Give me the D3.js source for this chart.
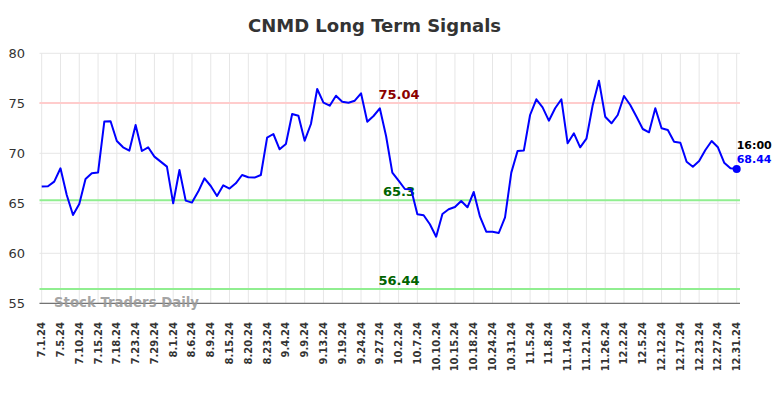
<!DOCTYPE html>
<html><head><meta charset="utf-8">
<script src="https://cdn.jsdelivr.net/npm/d3@7"></script>
<style>body{margin:0;background:#fff} svg{display:block;font-family:"DejaVu Sans",sans-serif}</style>
</head><body><svg id="c" width="784" height="398"></svg>
<script>
const title = "CNMD Long Term Signals";
const dates = [
"7.1.24","7.2.24","7.3.24","7.5.24","7.8.24","7.9.24","7.10.24","7.11.24","7.12.24","7.15.24","7.16.24","7.17.24",
"7.18.24","7.19.24","7.22.24","7.23.24","7.24.24","7.26.24","7.29.24","7.30.24","7.31.24","8.1.24","8.2.24","8.5.24",
"8.6.24","8.7.24","8.8.24","8.9.24","8.12.24","8.14.24","8.15.24","8.16.24","8.19.24","8.20.24","8.21.24","8.22.24",
"8.23.24","8.27.24","8.30.24","9.4.24","9.5.24","9.6.24","9.9.24","9.10.24","9.12.24","9.13.24","9.16.24","9.18.24",
"9.19.24","9.20.24","9.23.24","9.24.24","9.25.24","9.26.24","9.27.24","9.30.24","10.1.24","10.2.24","10.3.24","10.4.24",
"10.7.24","10.8.24","10.9.24","10.10.24","10.11.24","10.14.24","10.15.24","10.16.24","10.17.24","10.18.24","10.21.24","10.23.24",
"10.24.24","10.25.24","10.29.24","10.31.24","11.1.24","11.4.24","11.5.24","11.6.24","11.7.24","11.8.24","11.11.24","11.13.24",
"11.14.24","11.15.24","11.19.24","11.21.24","11.22.24","11.25.24","11.26.24","11.27.24","11.29.24","12.2.24","12.3.24","12.4.24",
"12.5.24","12.6.24","12.10.24","12.12.24","12.13.24","12.16.24","12.17.24","12.18.24","12.20.24","12.23.24","12.24.24","12.26.24",
"12.27.24","12.28.24","12.30.24","12.31.24"];
const values = [
66.67,66.7,67.17,68.5,65.83,63.83,64.93,67.43,68.0,68.07,73.17,73.2,
71.23,70.6,70.27,72.83,70.23,70.6,69.67,69.17,68.67,65.0,68.33,65.27,
65.07,66.17,67.5,66.73,65.73,66.8,66.47,67.0,67.83,67.6,67.57,67.83,
71.57,71.93,70.4,70.93,73.93,73.76,71.26,72.93,76.43,75.06,74.76,75.76,
75.16,75.06,75.26,76.0,73.16,73.73,74.5,71.73,68.07,67.26,66.43,66.4,
63.9,63.8,62.9,61.66,63.93,64.4,64.63,65.23,64.6,66.13,63.66,62.16,
62.16,62.03,63.6,68.07,70.23,70.27,73.83,75.4,74.6,73.26,74.5,75.4,
71.0,72.0,70.6,71.46,74.8,77.26,73.66,73.0,73.83,75.73,74.83,73.66,
72.43,72.1,74.5,72.5,72.33,71.16,71.06,69.16,68.66,69.23,70.33,71.23,
70.6,69.06,68.5,68.44];
const tickLabels = ["7.1.24","7.5.24","7.10.24","7.15.24","7.18.24","7.23.24","7.29.24","8.1.24","8.6.24","8.9.24",
"8.15.24","8.20.24","8.23.24","9.4.24","9.9.24","9.13.24","9.19.24","9.24.24","9.27.24","10.2.24","10.7.24","10.10.24",
"10.15.24","10.18.24","10.24.24","10.31.24","11.5.24","11.8.24","11.14.24","11.21.24","11.26.24","12.2.24","12.5.24",
"12.12.24","12.17.24","12.23.24","12.27.24","12.31.24"];
const yTicks = [55,60,65,70,75,80];
const resistance = [75.04];
const supports = [65.3, 56.44];
const lastTime = "16:00";

const svg = d3.select("#c");
const L = 39.5, R = 740, T = 53.3, B = 303.3;
const x = d3.scalePoint().domain(dates).range([41.7, 736.7]);
const y = d3.scaleLinear().domain([55, 80]).range([B, T]);

svg.append("text").attr("x", 374.5).attr("y", 31.7).attr("text-anchor", "middle")
  .attr("font-size", 18).attr("font-weight", "bold").attr("fill", "#333").text(title);

// grid
const g = svg.append("g");
g.selectAll(".hg").data(yTicks).join("line")
  .attr("x1", L).attr("x2", R).attr("y1", d => y(d)).attr("y2", d => y(d))
  .attr("stroke", "#e6e6e6").attr("stroke-width", 1);
g.selectAll(".vg").data(tickLabels).join("line")
  .attr("x1", d => x(d)).attr("x2", d => x(d)).attr("y1", T).attr("y2", B)
  .attr("stroke", "#e6e6e6").attr("stroke-width", 1);

// y labels
svg.selectAll(".yl").data(yTicks).join("text")
  .attr("x", 25).attr("y", d => y(d)).attr("dy", "0.35em").attr("text-anchor", "end")
  .attr("font-size", 13).attr("fill", "#333").text(d => d);

// x labels
svg.selectAll(".xl").data(tickLabels).join("text")
  .attr("transform", d => `translate(${x(d)},322) rotate(-90)`)
  .attr("dy", "0.35em").attr("text-anchor", "end")
  .attr("font-size", 10).attr("font-weight", "bold").attr("fill", "#333").text(d => d);

// signal lines
svg.selectAll(".rl").data(resistance).join("line")
  .attr("x1", L).attr("x2", R).attr("y1", d => y(d)).attr("y2", d => y(d))
  .attr("stroke", "#ffcccc").attr("stroke-width", 2);
svg.selectAll(".sl").data(supports).join("line")
  .attr("x1", L).attr("x2", R).attr("y1", d => y(d)).attr("y2", d => y(d))
  .attr("stroke", "#90ee90").attr("stroke-width", 2);

// bottom axis line
svg.append("line").attr("x1", L).attr("x2", R).attr("y1", B).attr("y2", B)
  .attr("stroke", "#555").attr("stroke-width", 1);

// watermark
svg.append("text").attr("x", 54).attr("y", 307).attr("font-size", 13.3).attr("font-weight", "bold")
  .attr("fill", "#999").attr("fill-opacity", 0.9).text("Stock Traders Daily");

// signal labels
svg.selectAll(".rt").data(resistance).join("text")
  .attr("x", 399).attr("y", d => y(d) - 4).attr("text-anchor", "middle")
  .attr("font-size", 13).attr("font-weight", "bold").attr("fill", "#8b0000").text(d => d.toFixed(2));
svg.selectAll(".st").data(supports).join("text")
  .attr("x", 399).attr("y", d => y(d) - 4).attr("text-anchor", "middle")
  .attr("font-size", 13).attr("font-weight", "bold").attr("fill", "#006400").text(d => String(d));

// price line
const line = d3.line().x((d, i) => x(dates[i])).y(d => y(d));
svg.append("path").datum(values).attr("d", line).attr("fill", "none")
  .attr("stroke", "#0000ff").attr("stroke-width", 2).attr("stroke-linejoin", "round");

const li = values.length - 1;
svg.append("circle").attr("cx", x(dates[li])).attr("cy", y(values[li])).attr("r", 4).attr("fill", "#0000ff");
svg.append("text").attr("x", x(dates[li])).attr("y", 148.5).attr("font-size", 11).attr("font-weight", "bold")
  .attr("fill", "#000").text(lastTime);
svg.append("text").attr("x", x(dates[li])).attr("y", 162.5).attr("font-size", 11).attr("font-weight", "bold")
  .attr("fill", "#0000ff").text(values[li].toFixed(2));
</script></body></html>
